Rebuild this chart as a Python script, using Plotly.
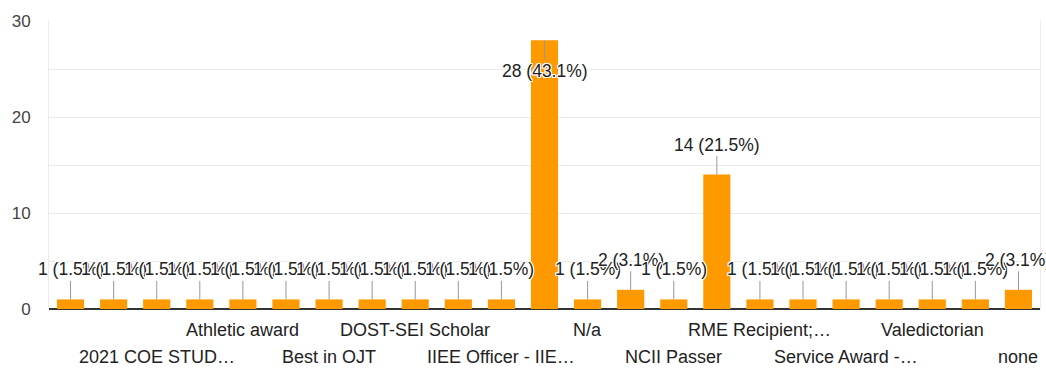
import plotly.graph_objects as go

# Response counts per answer, in the order the form lists them
values = [1, 1, 1, 1, 1, 1, 1, 1, 1, 1, 1, 28, 1, 2, 1, 14, 1, 1, 1, 1, 1, 1, 2]

# Answer names printed under the axis (every second answer, starting with the third)
tick_labels = [
    "2021 COE STUD…", "Athletic award", "Best in OJT", "DOST-SEI Scholar",
    "IIEE Officer - IIE…", "N/a", "NCII Passer", "RME Recipient;…",
    "Service Award -…", "Valedictorian", "none",
]

y_ticks = [0, 5, 10, 15, 20, 25, 30]
y_tick_text = ["0", "", "10", "", "20", "", "30"]

BAR = "#ff9900"
FONT = "Liberation Sans, Arial, sans-serif"
HALO = ("1px 1px 0 #fff, -1px -1px 0 #fff, 1px -1px 0 #fff, -1px 1px 0 #fff, "
        "0 1px 0 #fff, 0 -1px 0 #fff, 1px 0 0 #fff, -1px 0 0 #fff")

total = sum(values)
xs = list(range(len(values)))

fig = go.Figure(go.Bar(x=xs, y=values, marker=dict(color=BAR, line=dict(width=0)),
                       hoverinfo="skip"))

annotations = []
y_max = y_ticks[-1]
for x, v in zip(xs, values):
    pct = v / total * 100
    # labels that would leave the plot on top are placed inside the bar instead
    offset = 31 if v > y_max * 0.85 else -30
    annotations.append(dict(
        x=x, y=v, xref="x", yref="y",
        text=f"{v} ({pct:.1f}%)",
        showarrow=True, arrowhead=0, arrowwidth=1, arrowcolor="#999999",
        ax=0, ay=offset, standoff=0,
        font=dict(family=FONT, size=17.5, color="#222222", shadow=HALO),
    ))

# category names in two staggered rows
for k, name in enumerate(tick_labels):
    idx = 2 + 2 * k
    annotations.append(dict(
        x=idx, y=0, xref="x", yref="paper",
        text=name, showarrow=False, yanchor="middle",
        yshift=-21 if k % 2 == 1 else -48,
        font=dict(family=FONT, size=18, color="#222222"),
    ))

fig.update_layout(
    width=1046, height=370,
    margin=dict(l=49, r=6, t=21, b=61),
    paper_bgcolor="white", plot_bgcolor="white",
    bargap=0.37, showlegend=False,
    annotations=annotations,
    xaxis=dict(range=[-0.5, len(values) - 0.5], showticklabels=False, showgrid=False,
               zeroline=False, showline=False, fixedrange=True),
    yaxis=dict(range=[0, y_max], tickvals=y_ticks, ticktext=y_tick_text,
               showgrid=True, gridcolor="#ebebeb", gridwidth=1,
               zeroline=True, zerolinecolor="#333333", zerolinewidth=1.5,
               showline=True, mirror=True, linecolor="#ebebeb", linewidth=1,
               ticks="", ticklabelstandoff=14,
               tickfont=dict(family=FONT, size=17, color="#444444"),
               fixedrange=True),
)

fig.write_html("out.html")
